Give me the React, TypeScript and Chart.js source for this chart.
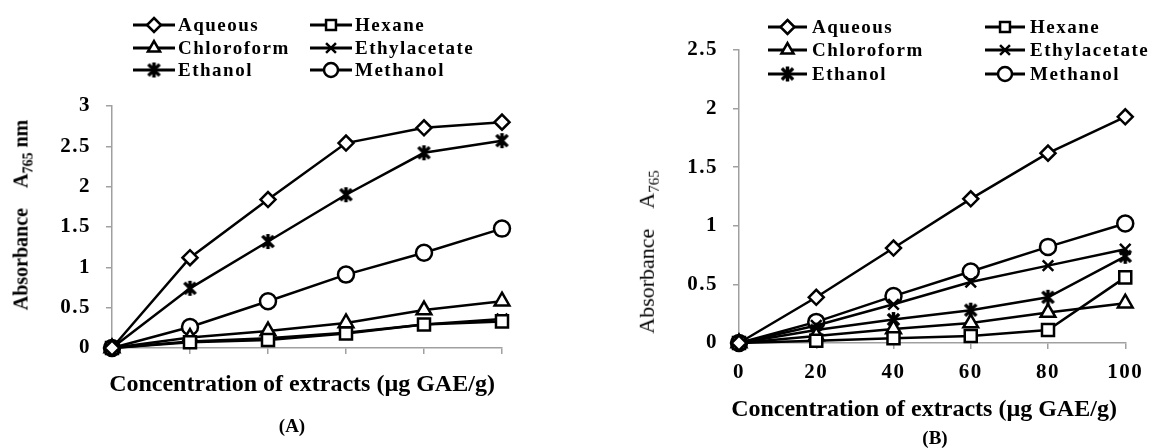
import React, { useEffect, useRef } from 'react';
import { Chart, registerables } from 'chart.js';

Chart.register(...registerables);

// ---------- data ----------
const SERIES_NAMES = ['Aqueous', 'Hexane', 'Chloroform', 'Ethylacetate', 'Ethanol', 'Methanol'];
const CONC_LABELS = ['0', '20', '40', '60', '80', '100'];

// Panel (A)
const A_AQUEOUS = [0, 1.12, 1.84, 2.54, 2.73, 2.80];
const A_HEXANE = [0, 0.07, 0.10, 0.18, 0.29, 0.33];
const A_CHLOROFORM = [0, 0.13, 0.21, 0.31, 0.47, 0.58];
const A_ETHYLACETATE = [0, 0.08, 0.12, 0.19, 0.29, 0.36];
const A_ETHANOL = [0, 0.74, 1.32, 1.90, 2.42, 2.57];
const A_METHANOL = [0, 0.26, 0.58, 0.91, 1.18, 1.48];

// Panel (B)
const B_AQUEOUS = [0, 0.39, 0.81, 1.23, 1.62, 1.93];
const B_HEXANE = [0, 0.02, 0.04, 0.06, 0.11, 0.56];
const B_CHLOROFORM = [0, 0.06, 0.12, 0.17, 0.26, 0.34];
const B_ETHYLACETATE = [0, 0.15, 0.33, 0.52, 0.66, 0.80];
const B_ETHANOL = [0, 0.11, 0.20, 0.28, 0.39, 0.74];
const B_METHANOL = [0, 0.18, 0.40, 0.61, 0.82, 1.02];

const A_Y_MAX = 3;
const B_Y_MAX = 2.5;
const Y_STEP = 0.5;

const X_TITLE = 'Concentration of extracts (µg GAE/g)';

// ---------- styling ----------
const SERIF = '"Liberation Serif", "Times New Roman", serif';
const AXIS_GRAY = '#a0a0a0';
const MARKERS = ['rectRot', 'rect', 'triangle', 'crossRot', 'asterisk', 'circle'];
const RADII = [7.5, 8.5, 8.5, 7.5, 7.5, 8];

function makeAsterisk(r: number) {
  const s = Math.ceil(2 * r + 6);
  const c = document.createElement('canvas');
  c.width = s;
  c.height = s;
  const g = c.getContext('2d')!;
  g.strokeStyle = '#000';
  g.lineWidth = 3.5;
  const m = s / 2;
  const d = r * 0.75;
  g.beginPath();
  g.moveTo(m - d, m - d);
  g.lineTo(m + d, m + d);
  g.moveTo(m + d, m - d);
  g.lineTo(m - d, m + d);
  g.moveTo(m, m - r);
  g.lineTo(m, m + r);
  g.stroke();
  return c;
}

function drawMarker(ctx: CanvasRenderingContext2D, style: any, x: number, y: number, r: number) {
  ctx.save();
  ctx.lineWidth = 2.5;
  ctx.strokeStyle = '#000';
  ctx.fillStyle = '#fff';
  ctx.beginPath();
  if (typeof style !== 'string') {
    ctx.drawImage(style, x - style.width / 2, y - style.height / 2);
    ctx.restore();
    return;
  }
  switch (style) {
    case 'rectRot':
      ctx.moveTo(x, y - r);
      ctx.lineTo(x + r, y);
      ctx.lineTo(x, y + r);
      ctx.lineTo(x - r, y);
      ctx.closePath();
      ctx.fill();
      ctx.stroke();
      break;
    case 'rect': {
      const s = r * Math.SQRT1_2;
      ctx.rect(x - s, y - s, 2 * s, 2 * s);
      ctx.fill();
      ctx.stroke();
      break;
    }
    case 'triangle': {
      let a = 0;
      ctx.moveTo(x + Math.sin(a) * r, y - Math.cos(a) * r);
      a += (2 * Math.PI) / 3;
      ctx.lineTo(x + Math.sin(a) * r, y - Math.cos(a) * r);
      a += (2 * Math.PI) / 3;
      ctx.lineTo(x + Math.sin(a) * r, y - Math.cos(a) * r);
      ctx.closePath();
      ctx.fill();
      ctx.stroke();
      break;
    }
    case 'crossRot': {
      const d = r * Math.SQRT1_2;
      ctx.moveTo(x - d, y - d);
      ctx.lineTo(x + d, y + d);
      ctx.moveTo(x + d, y - d);
      ctx.lineTo(x - d, y + d);
      ctx.stroke();
      break;
    }
    case 'circle':
      ctx.arc(x, y, r, 0, Math.PI * 2);
      ctx.fill();
      ctx.stroke();
      break;
  }
  ctx.restore();
}

const spacingPlugin = {
  id: 'tickSpacing',
  beforeDraw(chart: any) {
    (chart.ctx as any).letterSpacing = '1.5px';
  },
  afterDraw(chart: any) {
    (chart.ctx as any).letterSpacing = '0px';
  },
};

const legendPlugin = {
  id: 'sketchLegend',
  afterDraw(chart: any, _args: any, opts: any) {
    const ctx: CanvasRenderingContext2D = chart.ctx;
    const datasets = chart.data.datasets;
    ctx.save();
    ctx.font = `bold 19px ${SERIF}`;
    (ctx as any).letterSpacing = '1.5px';
    ctx.textBaseline = 'middle';
    ctx.textAlign = 'left';
    datasets.forEach((ds: any, i: number) => {
      const col = opts.cols[i % 2];
      const y = opts.rows[Math.floor(i / 2)];
      ctx.strokeStyle = '#000';
      ctx.lineWidth = 3;
      ctx.beginPath();
      ctx.moveTo(col.x0, y);
      ctx.lineTo(col.x1, y);
      ctx.stroke();
      drawMarker(ctx, ds.pointStyle, (col.x0 + col.x1) / 2, y, Math.min(ds.pointRadius, 7));
      ctx.fillStyle = '#000';
      ctx.fillText(ds.label, col.tx, y + 1);
    });
    ctx.restore();
  },
};

function buildDatasets(values: number[][]) {
  const asterisk = makeAsterisk(7.5);
  return SERIES_NAMES.map((name, i) => ({
    label: name,
    data: values[i],
    borderColor: '#000',
    borderWidth: 2.5,
    pointStyle: MARKERS[i] === 'asterisk' ? asterisk : MARKERS[i],
    pointRadius: RADII[i],
    pointBackgroundColor: '#fff',
    pointBorderColor: '#000',
    pointBorderWidth: 2.5,
    tension: 0,
    fill: false,
    clip: false as const,
  }));
}

function buildConfig(
  values: number[][],
  yMax: number,
  showX: boolean,
  padding: any,
  yWidth: number,
  xHeight: number,
  legend: any
) {
  const gridOpts = {
    display: true,
    drawOnChartArea: false,
    drawTicks: true,
    tickLength: 6,
    color: AXIS_GRAY,
    lineWidth: 1.5,
  };
  const tickFont = { family: SERIF, size: 21, weight: 'bold' as const };
  return {
    type: 'line' as const,
    data: { labels: CONC_LABELS, datasets: buildDatasets(values) },
    options: {
      animation: false as const,
      responsive: false,
      events: [],
      layout: { padding },
      plugins: {
        legend: { display: false },
        tooltip: { enabled: false },
        sketchLegend: legend,
      },
      scales: {
        x: {
          type: 'category' as const,
          offset: false,
          grid: gridOpts,
          border: { color: AXIS_GRAY, width: 1.5 },
          ticks: {
            display: showX,
            color: '#000',
            font: tickFont,
            padding: 11,
            maxRotation: 0,
            autoSkip: false,
          },
          afterFit: (s: any) => {
            s.height = xHeight;
          },
        },
        y: {
          min: 0,
          max: yMax,
          grid: gridOpts,
          border: { color: AXIS_GRAY, width: 1.5 },
          ticks: {
            stepSize: Y_STEP,
            color: '#000',
            font: tickFont,
            padding: 15,
            callback: (v: any) => String(v),
          },
          afterFit: (s: any) => {
            s.width = yWidth;
          },
        },
      },
    },
    plugins: [spacingPlugin, legendPlugin],
  };
}

function ChartCanvas({ config, left }: { config: any; left: number }) {
  const ref = useRef<HTMLCanvasElement>(null);
  useEffect(() => {
    const chart = new Chart(ref.current!, config);
    return () => chart.destroy();
  }, []);
  return (
    <canvas
      ref={ref}
      width={576}
      height={448}
      style={{ position: 'absolute', left, top: 0, width: 576, height: 448 }}
    />
  );
}

function Label({
  x,
  y,
  rotate,
  size,
  bold,
  children,
}: {
  x: number;
  y: number;
  rotate?: boolean;
  size: number;
  bold?: boolean;
  children: any;
}) {
  return (
    <div
      style={{
        position: 'absolute',
        left: x,
        top: y,
        transform: `translate(-50%, -50%)${rotate ? ' rotate(-90deg)' : ''}`,
        whiteSpace: 'nowrap',
        fontFamily: SERIF,
        fontSize: size,
        fontWeight: bold ? 'bold' : 'normal',
        color: '#000',
        lineHeight: 1,
      }}
    >
      {children}
    </div>
  );
}

export default function App() {
  const configA = buildConfig(
    [A_AQUEOUS, A_HEXANE, A_CHLOROFORM, A_ETHYLACETATE, A_ETHANOL, A_METHANOL],
    A_Y_MAX,
    false,
    { left: 0, right: 74, top: 106, bottom: 0 },
    112,
    100,
    {
      cols: [
        { x0: 133, x1: 175, tx: 178 },
        { x0: 310, x1: 352, tx: 355 },
      ],
      rows: [25, 48, 70],
    }
  );
  const configB = buildConfig(
    [B_AQUEOUS, B_HEXANE, B_CHLOROFORM, B_ETHYLACETATE, B_ETHANOL, B_METHANOL],
    B_Y_MAX,
    true,
    { left: 0, right: 19, top: 50, bottom: 0 },
    163,
    105,
    {
      cols: [
        { x0: 192, x1: 231, tx: 236 },
        { x0: 409, x1: 449, tx: 454 },
      ],
      rows: [27, 50, 74],
    }
  );
  return (
    <div
      style={{
        position: 'fixed',
        left: 0,
        top: 0,
        width: 1152,
        height: 448,
        background: '#fff',
        overflow: 'hidden',
      }}
    >
      <ChartCanvas config={configA} left={0} />
      <ChartCanvas config={configB} left={576} />
      <Label x={23} y={215} rotate size={20} bold>
        Absorbance<span style={{ marginLeft: 20 }}>A</span>
        <sub style={{ fontSize: 14 }}>765</sub> nm
      </Label>
      <Label x={649} y={252} rotate size={22}>
        Absorbance<span style={{ marginLeft: 20 }}>A</span>
        <sub style={{ fontSize: 15 }}>765</sub>
      </Label>
      <Label x={302} y={383} size={24} bold>
        {X_TITLE}
      </Label>
      <Label x={292} y={425} size={19} bold>
        (A)
      </Label>
      <Label x={924} y={408} size={24} bold>
        {X_TITLE}
      </Label>
      <Label x={935} y={437} size={19} bold>
        (B)
      </Label>
    </div>
  );
}
